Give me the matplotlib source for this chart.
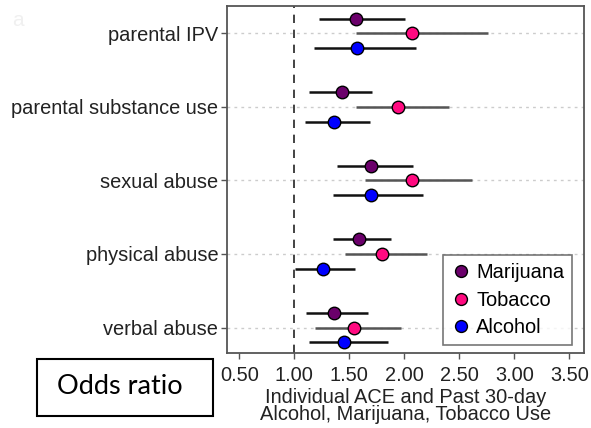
import matplotlib
matplotlib.use("Agg")
import matplotlib.pyplot as plt
from matplotlib.patches import Rectangle

plt.rcParams['font.family'] = ['Liberation Sans', 'DejaVu Sans']

categories = ["parental IPV", "parental substance use", "sexual abuse", "physical abuse", "verbal abuse"]
series = ["Marijuana", "Tobacco", "Alcohol"]
colors = {"Marijuana": "#6b006b", "Tobacco": "#ff0a80", "Alcohol": "#0000ff"}
bar_colors = {"Marijuana": "#111111", "Tobacco": "#555555", "Alcohol": "#111111"}

odds = {
    "Marijuana": [1.56, 1.43, 1.70, 1.59, 1.36],
    "Tobacco":   [2.07, 1.94, 2.07, 1.80, 1.54],
    "Alcohol":   [1.57, 1.36, 1.70, 1.26, 1.45],
}
lower = {
    "Marijuana": [1.22, 1.13, 1.39, 1.35, 1.11],
    "Tobacco":   [1.56, 1.56, 1.64, 1.46, 1.19],
    "Alcohol":   [1.18, 1.10, 1.35, 1.01, 1.13],
}
upper = {
    "Marijuana": [2.01, 1.71, 2.08, 1.88, 1.67],
    "Tobacco":   [2.76, 2.41, 2.62, 2.21, 1.97],
    "Alcohol":   [2.11, 1.69, 2.17, 1.55, 1.85],
}
xticks = [0.5, 1.0, 1.5, 2.0, 2.5, 3.0, 3.5]
offsets = {"Marijuana": -0.2, "Tobacco": 0.0, "Alcohol": 0.2}

fig = plt.figure(figsize=(5.91, 4.28), dpi=100)
ax = fig.add_axes([226.7 / 591, 1 - 353.3 / 428, (584 - 226.7) / 591, (353.3 - 6) / 428])

n = len(categories)
ypos = list(range(n))
for yy in ypos:
    ax.axhline(yy, color="#cccccc", lw=1.0, ls=(0, (2, 3)), zorder=0)
ax.axvline(1.0, color="#222222", lw=1.2, ls=(0, (5, 4)), zorder=1)

for s in series:
    ys = [y + offsets[s] for y in ypos]
    ax.hlines(ys, lower[s], upper[s], color=bar_colors[s], lw=1.8, zorder=2)
    ax.plot(odds[s], ys, "o", ms=9, mfc=colors[s], mec="black", mew=1.0, zorder=3, label=s, ls="none")

fs = 14.4
ax.set_xlim(0.385, 3.634)
ax.set_ylim(n - 1 + 0.35, -0.37)
ax.set_yticks(ypos)
ax.set_yticklabels(categories, fontsize=fs, color="#222222")
ax.set_xticks(xticks)
ax.set_xticklabels([f"{v:.2f}" for v in xticks], fontsize=fs, color="#222222")
ax.set_xlabel("Individual ACE and Past 30-day\nAlcohol, Marijuana, Tobacco Use", fontsize=fs, color="#222222",
              labelpad=2, linespacing=0.88)
ax.tick_params(axis="y", direction="out", length=4, color="#555555", width=1, pad=2)
ax.tick_params(axis="x", direction="out", length=4, color="#555555", width=1, pad=5)
for sp in ax.spines.values():
    sp.set_color("#555555")
    sp.set_linewidth(1.3)

leg = ax.legend(loc="lower right", bbox_to_anchor=(0.978, 0.012), fontsize=fs, frameon=True, fancybox=False,
                handletextpad=0.25, handlelength=1.0, borderpad=0.4, labelspacing=0.42, markerscale=0.95,
                borderaxespad=0.2)
leg.get_frame().set_edgecolor("#555555")
leg.get_frame().set_linewidth(1.2)

fig.patches.append(Rectangle((37 / 591, 1 - 416 / 428), 176 / 591, 57.5 / 428, transform=fig.transFigure,
                             fill=False, edgecolor="black", lw=1.5))
fig.text(120 / 591, 1 - 387 / 428, "Odds ratio", fontsize=19.5, ha="center", va="center",
         family=["Lato", "DejaVu Sans"], color="black")
fig.text(12 / 591, 1 - 20 / 428, "a", fontsize=15, color="#f0f0f0", ha="left", va="center")

fig.savefig("out.png", dpi=100)
